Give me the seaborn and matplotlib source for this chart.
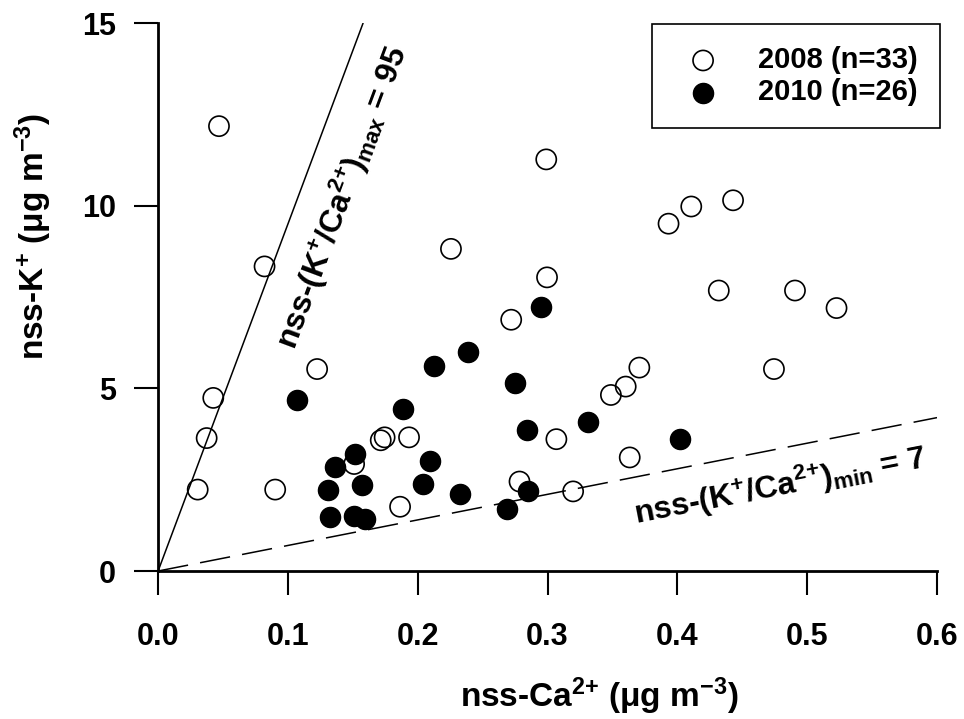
import pandas as pd
import matplotlib.pyplot as plt
import seaborn as sns

# nss-Ca2+ / nss-K+ (ug m-3)
ca_2008 = [0.0425, 0.0374, 0.0305, 0.0902, 0.1225, 0.151, 0.1715, 0.1745, 0.1933, 0.1864,
           0.2784, 0.272, 0.3068, 0.3488, 0.3602, 0.3707, 0.3633, 0.3197, 0.4744, 0.5226,
           0.299, 0.3932, 0.4107, 0.4429, 0.2996, 0.4319, 0.4906, 0.0469, 0.082, 0.2256]
k_2008 = [4.74, 3.64, 2.23, 2.23, 5.53, 2.93, 3.58, 3.66, 3.66, 1.76,
          2.45, 6.88, 3.61, 4.82, 5.05, 5.57, 3.11, 2.18, 5.53, 7.20,
          11.27, 9.51, 9.98, 10.15, 8.04, 7.68, 7.68, 12.18, 8.34, 8.82]

ca_2010 = [0.107, 0.136, 0.152, 0.1307, 0.1328, 0.1508, 0.1593, 0.1573, 0.1887, 0.2094,
           0.2042, 0.2127, 0.2385, 0.2746, 0.2841, 0.2326, 0.2689, 0.2849, 0.2947, 0.3308,
           0.4017]
k_2010 = [4.68, 2.86, 3.20, 2.22, 1.48, 1.50, 1.42, 2.36, 4.44, 3.00,
          2.39, 5.62, 5.99, 5.16, 3.85, 2.12, 1.71, 2.20, 7.23, 4.09,
          3.61]

ratio_max = 95
ratio_min = 7

df08 = pd.DataFrame({"ca": ca_2008, "k": k_2008})
df10 = pd.DataFrame({"ca": ca_2010, "k": k_2010})

sns.set_style("ticks")
plt.rcParams["font.family"] = ["Liberation Sans", "DejaVu Sans"]
plt.rcParams["font.weight"] = "bold"
plt.rcParams["text.color"] = "black"
plt.rcParams["axes.labelcolor"] = "black"
plt.rcParams["xtick.color"] = "black"
plt.rcParams["ytick.color"] = "black"
plt.rcParams["mathtext.fontset"] = "custom"
plt.rcParams["mathtext.rm"] = "Liberation Sans:bold"
plt.rcParams["mathtext.it"] = "Liberation Sans:bold"
plt.rcParams["mathtext.bf"] = "Liberation Sans:bold"
plt.rcParams["mathtext.sf"] = "Liberation Sans:bold"
plt.rcParams["mathtext.default"] = "rm"

fig = plt.figure(figsize=(9.64, 7.19), dpi=100)
ax = fig.add_axes([0.164, 0.2058, 0.808, 0.762])

# ratio lines
x_top = 15 / ratio_max
ax.plot([0, x_top], [0, ratio_max * x_top], color="black", lw=1.1)
ax.plot([0, 0.6], [0, ratio_min * 0.6], color="black", lw=1.1, dashes=(20, 8))

sns.scatterplot(data=df08, x="ca", y="k", ax=ax, s=210, facecolor="none",
                edgecolor="black", linewidth=1.2, label="2008 (n=33)", zorder=3)
sns.scatterplot(data=df10, x="ca", y="k", ax=ax, s=210, color="black",
                edgecolor="black", linewidth=1.0, label="2010 (n=26)", zorder=4)

ax.text(0.142, 10.23, r"nss-(K$^{+}$/Ca$^{\text{2+}}$)$_{max}$ = 95", rotation=69.5,
        rotation_mode="anchor", ha="center", va="center", fontsize=23, fontweight="bold")
ax.text(0.479, 2.33, r"nss-(K$^{+}$/Ca$^{\text{2+}}$)$_{min}$ = 7", rotation=11,
        rotation_mode="anchor", ha="center", va="center", fontsize=23, fontweight="bold")

ax.set_xlim(0, 0.6)
ax.set_ylim(0, 15)
ax.set_xticks([0.0, 0.1, 0.2, 0.3, 0.4, 0.5, 0.6])
ax.set_xticklabels(["0.0", "0.1", "0.2", "0.3", "0.4", "0.5", "0.6"])
ax.set_yticks([0, 5, 10, 15])
ax.tick_params(axis="both", direction="out", length=17.5, width=1.5, labelsize=22, color="black")
ax.tick_params(axis="x", pad=19)
ax.tick_params(axis="y", pad=13)
for lab in ax.get_xticklabels() + ax.get_yticklabels():
    lab.set_fontweight("bold")

sns.despine(ax=ax)
for sp in ["left", "bottom"]:
    ax.spines[sp].set_linewidth(2)
    ax.spines[sp].set_color("black")

ax.set_xlabel(r"nss-Ca$^{\text{2+}}$ (μg m$^{-3}$)", fontsize=24, fontweight="bold")
ax.set_ylabel(r"nss-K$^{+}$ (μg m$^{-3}$)", fontsize=24, fontweight="bold")
ax.xaxis.set_label_coords(0.567, -0.19)
ax.yaxis.set_label_coords(-0.1335, 0.61)

leg = ax.legend(loc="upper right", bbox_to_anchor=(1.004, 0.998), borderaxespad=0,
                fontsize=21, frameon=True, fancybox=False, edgecolor="black",
                framealpha=1, borderpad=0.75, handlelength=2, handletextpad=0.9,
                labelspacing=0.15)
leg.get_frame().set_linewidth(1.2)
for t in leg.get_texts():
    t.set_fontweight("bold")

fig.savefig("out.png", dpi=100)
